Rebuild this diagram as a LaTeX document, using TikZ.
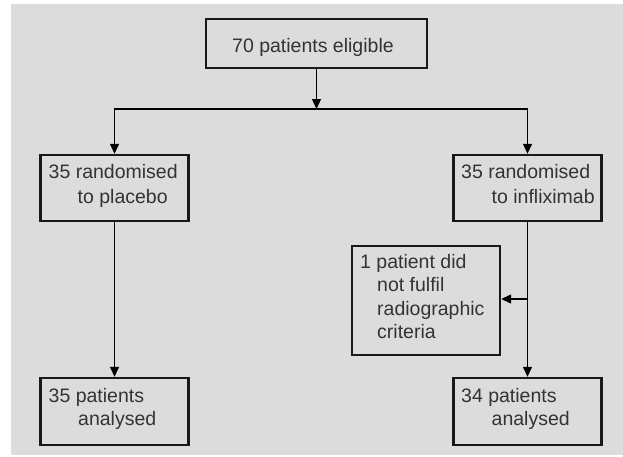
\documentclass[tikz,border=0pt]{standalone}
\usepackage{fontspec}
\setmainfont{Liberation Sans}
\usetikzlibrary{arrows.meta}
\definecolor{bg}{HTML}{DCDCDC}
\definecolor{ink}{HTML}{333333}
\tikzset{
  box/.style={draw=black!90, line width=2.4pt, inner sep=0pt},
  txt/.style={anchor=base west, inner sep=0pt, text=ink, font=\fontsize{19.5}{22}\selectfont},
  arr/.style={draw=black, line width=1.3pt, -{Triangle[length=10pt,width=9pt]}},
  ln/.style={draw=black, line width=1.3pt}
}
\begin{document}
\begin{tikzpicture}[x=1pt,y=-1pt]
\useasboundingbox (0,0) rectangle (623,456);
\fill[white] (0,0) rectangle (623,456);
\fill[bg] (11,4) rectangle (623,455);
% boxes
\node[box, minimum width=221pt, minimum height=49pt] (top) at (316.5,43.5) {};
\node[box, minimum width=148pt, minimum height=66pt] (pl) at (114.5,188) {};
\node[box, minimum width=148pt, minimum height=66pt] (inf) at (527.5,188) {};
\node[box, minimum width=148pt, minimum height=109pt] (excl) at (426,300.5) {};
\node[box, minimum width=148pt, minimum height=67pt] (an1) at (114.5,411.5) {};
\node[box, minimum width=148pt, minimum height=67pt] (an2) at (527.5,411.5) {};
% texts
\node[txt] (t0) at (232,52) {70 patients eligible};
\node[txt] (t1a) at (48.5,178.5) {35 randomised};
\node[txt] (t1b) at (77.5,203) {to placebo};
\node[txt] (t2a) at (461,178.5) {35 randomised};
\node[txt] (t2b) at (491.5,203) {to infliximab};
\node[txt] (t3a) at (360,268) {1 patient did};
\node[txt] (t3b) at (377,291.5) {not fulfil};
\node[txt] (t3c) at (377,315) {radiographic};
\node[txt] (t3d) at (377,338) {criteria};
\node[txt] (t4a) at (48.5,402) {35 patients};
\node[txt] (t4b) at (78,425) {analysed};
\node[txt] (t5a) at (461,402) {34 patients};
\node[txt] (t5b) at (491.5,425) {analysed};
% connectors
\coordinate (j) at (316.5,109);
\coordinate (k) at (527.5,299);
\draw[arr] (top) -- (j);
\draw[arr] (j) -| (pl.north);
\draw[arr] (j) -| (inf.north);
\draw[arr] (pl) -- (an1);
\draw[arr] (inf) -- (an2);
\draw[arr] (k) -- (excl.east |- k);
\end{tikzpicture}
\end{document}
